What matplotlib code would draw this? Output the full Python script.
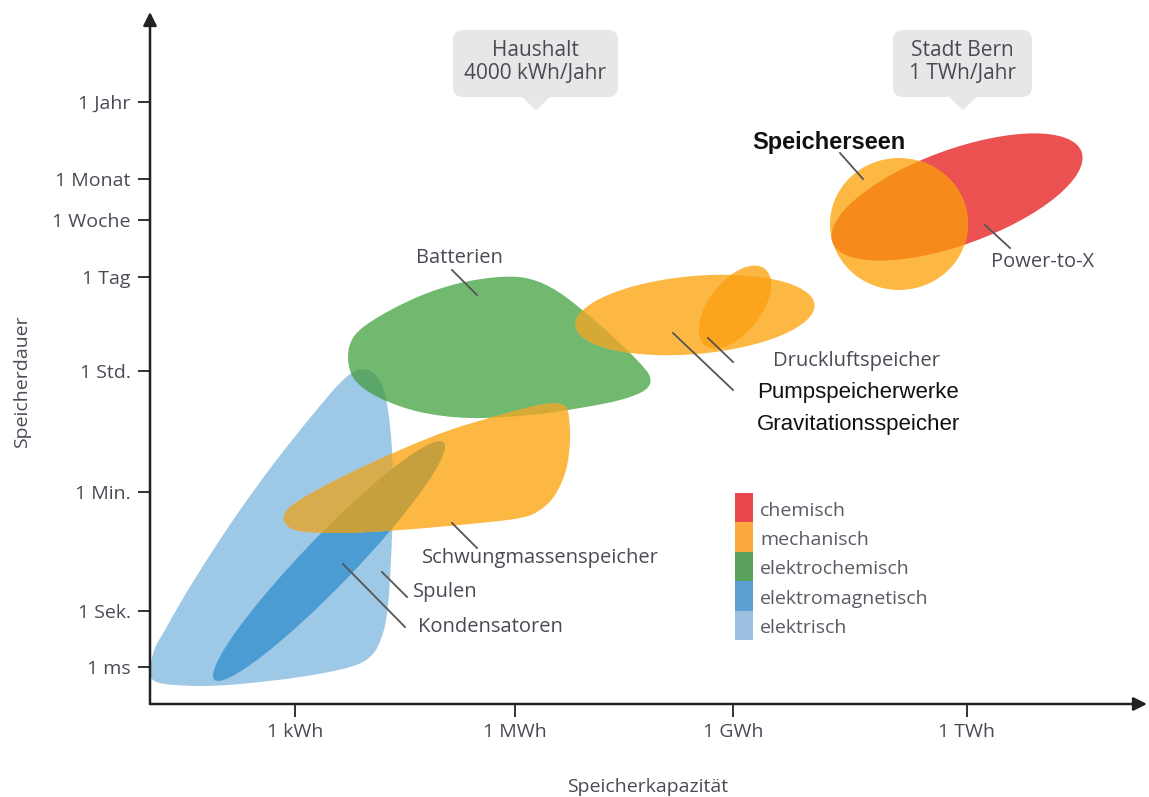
import numpy as np
import matplotlib
matplotlib.use("Agg")
import matplotlib.pyplot as plt
from matplotlib.patches import Ellipse, PathPatch, FancyBboxPatch, Polygon, Rectangle
from matplotlib.path import Path

plt.rcParams["font.family"] = ["Open Sans", "DejaVu Sans"]

# schematic axes: 1 unit = 100 px, origin at the axis corner
x_ticks = [1.45, 3.65, 5.83, 8.17]
x_labels = ["1 kWh", "1 MWh", "1 GWh", "1 TWh"]
y_ticks = [0.37, 0.93, 2.12, 3.33, 4.27, 4.84, 5.25, 6.02]
y_labels = ["1 ms", "1 Sek.", "1 Min.", "1 Std.", "1 Tag", "1 Woche", "1 Monat", "1 Jahr"]

# technology regions (outline vertices or ellipse cx, cy, w, h, angle)
kondensatoren = [(0.00, 0.36), (0.05, 0.56), (0.15, 0.74), (0.35, 1.09), (0.60, 1.49),
                 (0.90, 1.94), (1.25, 2.42), (1.60, 2.86), (1.90, 3.21), (2.08, 3.34),
                 (2.22, 3.32), (2.32, 3.19), (2.38, 2.94), (2.42, 2.54), (2.43, 2.04),
                 (2.41, 1.44), (2.38, 0.99), (2.33, 0.71), (2.22, 0.49), (2.00, 0.37),
                 (1.50, 0.27), (0.90, 0.20), (0.50, 0.18), (0.15, 0.20), (0.02, 0.25)]
spulen = (1.79, 1.43, 3.30, 0.50, 46)
batterien = [(1.98, 3.47), (2.05, 3.69), (2.30, 3.88), (2.70, 4.08), (3.10, 4.21),
             (3.50, 4.27), (3.80, 4.25), (4.10, 4.11), (4.50, 3.79), (4.85, 3.46),
             (5.00, 3.27), (4.95, 3.14), (4.70, 3.04), (4.30, 2.96), (3.80, 2.89),
             (3.20, 2.86), (2.70, 2.92), (2.30, 3.06), (2.05, 3.24)]
schwung = [(1.35, 1.91), (1.50, 2.04), (1.90, 2.26), (2.50, 2.54), (3.00, 2.74),
           (3.50, 2.89), (3.90, 2.99), (4.10, 3.00), (4.18, 2.92), (4.20, 2.64),
           (4.16, 2.34), (4.05, 2.09), (3.90, 1.94), (3.70, 1.86), (3.20, 1.80),
           (2.50, 1.74), (1.90, 1.71), (1.50, 1.73), (1.36, 1.80)]
pumpspeicher = (5.45, 3.89, 2.40, 0.78, 5)
druckluft = (5.85, 3.97, 0.97, 0.52, 52)
power_to_x = (8.07, 5.07, 2.65, 0.95, 20)
speicherseen = (7.49, 4.80, 1.38, 1.32, 0)

legend_names = ["chemisch", "mechanisch", "elektrochemisch", "elektromagnetisch", "elektrisch"]
legend_colors = ["#e8464a", "#fcaa3e", "#5aa15b", "#5b9fd3", "#9ec0e0"]

c_lblue = "#9dc8e6"
c_dblue = "#4b9cd3"
c_green = "#71b96f"
c_orange = "#fdb844"
c_red = "#ec5152"
txt = "#4a4a55"


def smooth_path(pts):
    P = np.asarray(pts, float)
    n = len(P)
    verts, codes = [P[0]], [Path.MOVETO]
    for i in range(n):
        p0, p1, p2, p3 = P[i - 1], P[i], P[(i + 1) % n], P[(i + 2) % n]
        verts += [p1 + (p2 - p0) / 6, p2 - (p3 - p1) / 6, p2]
        codes += [Path.CURVE4] * 3
    verts.append(P[0])
    codes.append(Path.CLOSEPOLY)
    return Path(verts, codes)


def make(shape, color):
    if isinstance(shape, tuple):
        cx, cy, w, h, a = shape
        return Ellipse((cx, cy), w, h, angle=a, facecolor=color, lw=0)
    return PathPatch(smooth_path(shape), facecolor=color, lw=0)


fig = plt.figure(figsize=(11.49, 7.97), dpi=100)
ax = fig.add_axes([150 / 1149, 93 / 797, 997 / 1149, 692 / 797])
ax.set_xlim(0, 9.97)
ax.set_ylim(0, 6.92)
for s in ax.spines.values():
    s.set_visible(False)


def add(shape, color):
    p = make(shape, color)
    ax.add_patch(p)
    return p


def overlap(shape, clip, color):
    p = make(shape, color)
    ax.add_patch(p)
    p.set_clip_path(clip)


p_kond = add(kondensatoren, c_lblue)
p_spul = add(spulen, c_dblue)
p_batt = add(batterien, c_green)
overlap(batterien, p_kond, "#5ba76b")
p_schw = add(schwung, c_orange)
overlap(schwung, p_kond, "#d8ab4c")
overlap(schwung, p_spul, "#c7a03e")
overlap(schwung, p_batt, "#d4a935")
p_pump = add(pumpspeicher, c_orange)
overlap(pumpspeicher, p_batt, "#d4a935")
p_druck = add(druckluft, c_orange)
overlap(druckluft, p_pump, "#fca51c")
p_ptx = add(power_to_x, c_red)
p_see = add(speicherseen, c_orange)
overlap(speicherseen, p_ptx, "#f68a1b")

# axes with arrows
for tip in [(9.97, 0), (0, 6.92)]:
    ax.annotate("", xy=tip, xytext=(0, 0), annotation_clip=False,
                arrowprops=dict(arrowstyle="-|>", color="#222", lw=1.8, mutation_scale=20,
                                shrinkA=0, shrinkB=0))
ax.set_xticks(x_ticks)
ax.set_xticklabels(x_labels)
ax.set_yticks(y_ticks)
ax.set_yticklabels(y_labels)
ax.tick_params(length=9, width=1.4, color="#333", labelsize=14, labelcolor=txt, pad=5)
ax.tick_params(axis="x", pad=5)

ax.text(-1.28, 3.22, "Speicherdauer", rotation=90, ha="center", va="center",
        fontsize=14, color=txt, clip_on=False)
ax.text(4.98, -0.83, "Speicherkapazität", ha="center", va="center",
        fontsize=14, color=txt, clip_on=False)

# leader lines and labels
leaders = [((6.90, 5.51), (7.13, 5.25)), ((8.35, 4.79), (8.60, 4.56)),
           ((3.02, 4.34), (3.27, 4.09)), ((5.23, 3.71), (5.83, 3.14)),
           ((5.58, 3.66), (5.83, 3.42)), ((3.02, 1.81), (3.27, 1.56)),
           ((2.32, 1.32), (2.57, 1.07)), ((1.93, 1.40), (2.55, 0.77))]
for a, b in leaders:
    ax.plot([a[0], b[0]], [a[1], b[1]], color="#555", lw=1.3)

gray_labels = [("Batterien", 2.66, 4.46), ("Druckluftspeicher", 6.23, 3.43),
               ("Schwungmassenspeicher", 2.72, 1.46), ("Spulen", 2.63, 1.12),
               ("Kondensatoren", 2.68, 0.77), ("Power-to-X", 8.41, 4.42)]
for s, x, y in gray_labels:
    ax.text(x, y, s, ha="left", va="center", fontsize=14.5, color=txt)

ax.text(6.02, 5.61, "Speicherseen", ha="left", va="center", fontsize=17,
        fontweight="bold", family="Liberation Sans", color="#111")
ax.text(6.07, 3.11, "Pumpspeicherwerke", ha="left", va="center", fontsize=16,
        family="Liberation Sans", color="#111")
ax.text(6.07, 2.79, "Gravitationsspeicher", ha="left", va="center", fontsize=16,
        family="Liberation Sans", color="#111")

# callout boxes
callouts = [("Haushalt\n4000 kWh/Jahr", 3.03, 4.68, 3.86), ("Stadt Bern\n1 TWh/Jahr", 7.43, 8.82, 8.13)]
for s, x0, x1, tip in callouts:
    ax.add_patch(FancyBboxPatch((x0 + 0.1, 6.17), x1 - x0 - 0.2, 0.47,
                                boxstyle="round,pad=0.1,rounding_size=0.1",
                                facecolor="#e6e7e7", lw=0, clip_on=False))
    ax.add_patch(Polygon([(tip - 0.15, 6.08), (tip + 0.15, 6.08), (tip, 5.94)],
                         facecolor="#e6e7e7", lw=0, clip_on=False))
    ax.text((x0 + x1) / 2, 6.42, s, ha="center", va="center", fontsize=15,
            color=txt, linespacing=1.1)

# legend
top = 2.11
h = 0.294
for i, (n, c) in enumerate(zip(legend_names, legend_colors)):
    y0 = top - (i + 1) * h
    ax.add_patch(Rectangle((5.85, y0), 0.18, h, facecolor=c, lw=0))
    ax.text(6.10, y0 + h / 2 - 0.03, n, ha="left", va="center", fontsize=14, color="#5a5a64")

fig.savefig("out.png", dpi=100)
